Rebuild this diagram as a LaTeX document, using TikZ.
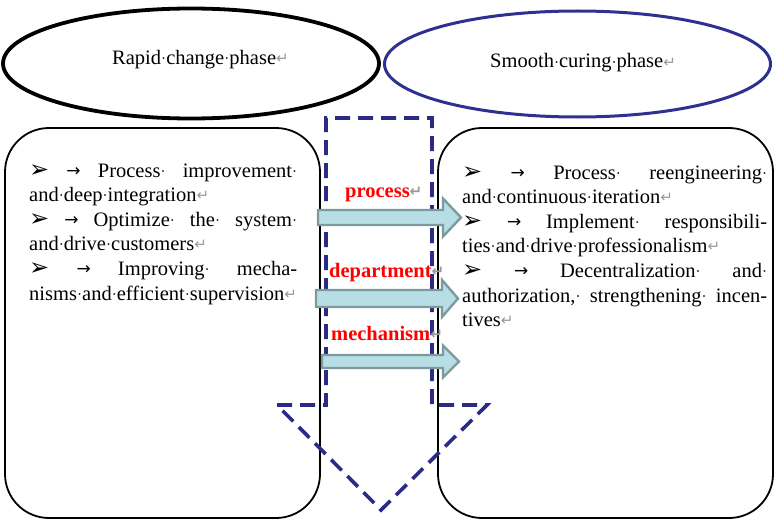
\documentclass[tikz,border=0pt]{standalone}
\usepackage{fontspec}
\setmainfont{Liberation Serif}
\newfontfamily\djv{DejaVu Sans}
\usetikzlibrary{shapes.geometric}
\definecolor{eblue}{RGB}{46,49,146}
\definecolor{dblue}{RGB}{43,43,135}
\definecolor{afill}{RGB}{183,222,228}
\definecolor{aline}{RGB}{125,155,157}
\definecolor{lred}{RGB}{255,0,0}
\newcommand{\rmk}{{\djv\fontsize{15}{15}\selectfont\color{black!40}\raisebox{1pt}{↵}}}
\newcommand{\dsp}{\makebox[0.25em]{\raisebox{1pt}{\fontsize{15}{15}\selectfont·}}}
\newcommand{\bul}{{\djv\fontsize{24}{24}\selectfont ➢}}
\newcommand{\rar}{{\djv\fontsize{17}{17}\selectfont\raisebox{0.5pt}{→}}}
\newcommand{\jline}[2]{\makebox[#1][s]{#2}}
\tikzset{
  txt/.style={anchor=base west, inner sep=0, font=\fontsize{20.5}{24.6}\selectfont},
  lbl/.style={anchor=base west, inner sep=0, text=lred, font=\fontsize{20.5}{24.6}\selectfont\bfseries},
  phase/.style={ellipse, inner sep=0},
  panel/.style={draw=black, line width=1.8pt, rounded corners=44pt},
  blockarrow/.style={fill=afill, draw=aline, line width=2.4pt, line join=miter},
  bigarrow/.style={draw=dblue, line width=3.6pt, dash pattern=on 15pt off 8pt}
}
\begin{document}
\begin{tikzpicture}[x=1pt,y=-1pt]
\useasboundingbox (0,0) rectangle (774,519);
% phase ellipses
\node[phase, draw=black, line width=3.8pt, minimum width=376pt, minimum height=110pt] (e1) at (191,63.5) {};
\node[phase, draw=eblue, line width=3pt, minimum width=386pt, minimum height=106pt] (e2) at (577.5,64) {};
\node[txt] (t1) at (112,65) {Rapid\dsp change\dsp phase\rmk};
\node[txt] (t2) at (490,68) {Smooth\dsp curing\dsp phase\rmk};
% panels
\draw[panel] (5,128) rectangle (320,518);
\draw[panel] (438,128) rectangle (773,518);
% big dashed arrow
\draw[bigarrow] (277,405) -- (326,405) -- (326,118) -- (432,118) -- (432,405) -- (487,405) -- (381,510) -- cycle;
% left text
\node[txt] (l1) at (29,177) {\jline{268pt}{\bul\hfill\rar\hfill Process\dsp\hfill improvement\dsp}};
\node[txt] (l2) at (29,201.6) {and\dsp deep\dsp integration\rmk};
\node[txt] (l3) at (29,226.2) {\jline{268pt}{\bul\hfill\rar\hfill Optimize\dsp\hfill the\dsp\hfill system\dsp}};
\node[txt] (l4) at (29,250.8) {and\dsp drive\dsp customers\rmk};
\node[txt] (l5) at (29,275.4) {\jline{268pt}{\bul\hfill\rar\hfill Improving\dsp\hfill mecha-}};
\node[txt] (l6) at (29,300) {nisms\dsp and\dsp efficient\dsp supervision\rmk};
% right text
\node[txt] (r1) at (462,179) {\jline{305pt}{\bul\hfill\rar\hfill Process\dsp\hfill reengineering\dsp}};
\node[txt] (r2) at (462,203.6) {and\dsp continuous\dsp iteration\rmk};
\node[txt] (r3) at (462,228.2) {\jline{305pt}{\bul\hfill\rar\hfill Implement\dsp\hfill responsibili-}};
\node[txt] (r4) at (462,252.8) {ties\dsp and\dsp drive\dsp professionalism\rmk};
\node[txt] (r5) at (462,277.4) {\jline{305pt}{\bul\hfill\rar\hfill Decentralization\dsp\hfill and\dsp}};
\node[txt] (r6) at (462,302) {\jline{305pt}{authorization,\dsp\hfill strengthening\dsp\hfill incen-}};
\node[txt] (r7) at (462,326.6) {tives\rmk};
% block arrows
\draw[blockarrow] (318,210) -- (443,210) -- (443,198.5) -- (461,217.5) -- (443,236.5) -- (443,225) -- (318,225) -- cycle;
\draw[blockarrow] (316,290) -- (442,290) -- (442,280) -- (458,298.5) -- (442,317) -- (442,307) -- (316,307) -- cycle;
\draw[blockarrow] (322,355) -- (443,355) -- (443,345.5) -- (459,361.5) -- (443,377.5) -- (443,368) -- (322,368) -- cycle;
% labels
\node[lbl] (p1) at (345,197) {process\rmk};
\node[lbl] (p2) at (329,277) {department\rmk};
\node[lbl] (p3) at (331,340) {mechanism\rmk};
\end{tikzpicture}
\end{document}
